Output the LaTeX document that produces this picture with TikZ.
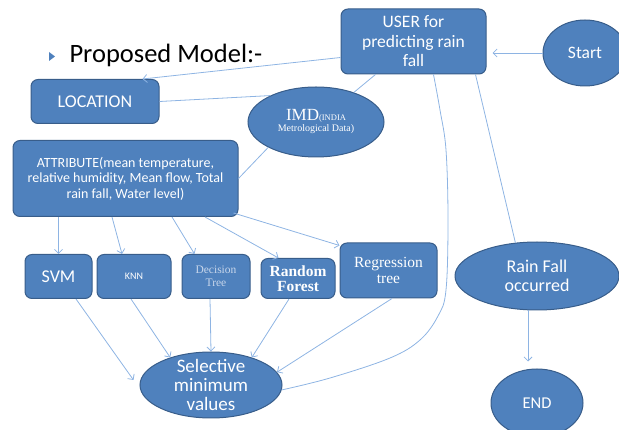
\documentclass[tikz,border=0pt]{standalone}
\usepackage{fontspec}
\setmainfont{Carlito}
\newfontfamily\timesfont{Liberation Serif}
\usepackage{xcolor}
\usetikzlibrary{shapes.geometric,arrows.meta}
\definecolor{boxblue}{HTML}{4F81BD}
\definecolor{boxedge}{HTML}{385D8A}
\definecolor{linkblue}{HTML}{8EB4E3}
\definecolor{paletext}{HTML}{C8D6EB}

\begin{document}
\begin{tikzpicture}[
	%	style def
	x=1pt, y=-1pt,
	block/.style={draw=boxedge, fill=boxblue, rounded corners=7pt, line width=1pt, text=white, align=center, inner sep=0pt},
	oval/.style={ellipse, draw=boxedge, fill=boxblue, line width=1pt, inner sep=0pt},
	oval text/.style={text=white, align=center},
	link/.style={draw=linkblue, line width=0.8pt},
	arrow link/.style={link, -{Straight Barb[length=4pt,width=8pt]}}
	]
	\useasboundingbox (0,0) rectangle (619,430);
	\clip (0,0) rectangle (619,430);

	% heading
	\fill[boxblue] (49,52) -- (49,61) -- (55,56.5) -- cycle;
	\node[anchor=base west, font=\fontsize{26.5}{26.5}\selectfont] (title) at (66,63) {Proposed Model:-};

	% upper part
	\node[block, minimum width=145pt, minimum height=65pt, font=\fontsize{17.5}{19.5}\selectfont] (user) at (413.5,41.5) {USER for\\predicting rain\\fall};
	\node[oval, minimum width=84pt, minimum height=66pt, label={[oval text, font=\fontsize{17.5}{17.5}\selectfont]center:Start}] (start) at (585,53) {};
	\node[block, minimum width=128pt, minimum height=44pt, font=\fontsize{18}{18}\selectfont] (loc) at (95,101.5) {LOCATION};
	\node[oval, minimum width=136pt, minimum height=70pt, label={[oval text, font=\timesfont]center:{\fontsize{17}{17}\selectfont IMD}{\fontsize{8.5}{9}\selectfont (INDIA}\\[-1pt]{\fontsize{10}{11}\selectfont Metrological Data)}}] (imd) at (316,122) {};
	\node[block, minimum width=225pt, minimum height=76pt, font=\fontsize{14}{15.5}\selectfont] (attr) at (125.5,178.5) {ATTRIBUTE(mean temperature,\\relative humidity, Mean flow, Total\\rain fall, Water level)};

	% methods
	\node[block, minimum width=67pt, minimum height=44pt, font=\fontsize{18}{18}\selectfont] (svm) at (58.5,276.5) {SVM};
	\node[block, minimum width=74pt, minimum height=44pt, font=\fontsize{10}{10}\selectfont] (knn) at (134,276.5) {KNN};
	\node[block, minimum width=68pt, minimum height=44pt, text=paletext, font=\timesfont\fontsize{11.5}{13}\selectfont] (dec) at (216,276.5) {Decision\\Tree};
	\node[block, minimum width=74pt, minimum height=40pt, font=\timesfont\bfseries\fontsize{15.5}{15.5}\selectfont] (rf) at (298,278.5) {Random\\Forest};
	\node[block, minimum width=97pt, minimum height=55pt, font=\timesfont\fontsize{15.5}{16.5}\selectfont] (reg) at (388.5,270.5) {Regression\\tree};

	% lower part
	\node[oval, minimum width=142pt, minimum height=66pt, label={[oval text, font=\fontsize{19}{19}\selectfont]center:Selective\\minimum\\values}] (sel) at (211,385) {};
	\node[oval, minimum width=164pt, minimum height=68pt, label={[oval text, font=\fontsize{18}{19.5}\selectfont]center:Rain Fall\\occurred}] (rain) at (537,276) {};
	\node[oval, minimum width=92pt, minimum height=68pt, label={[oval text, font=\fontsize{16.5}{16.5}\selectfont]center:END}] (endn) at (537,403) {};

	% connections at the top
	\draw[arrow link, shorten >=6pt] (start.west) -- (start.west -| user.east);
	\draw[arrow link] ([yshift=-16pt]user.west) -- ([xshift=-17pt]loc.north east);
	\draw[link] (loc.east) -- (imd.150);
	\draw[link] ([xshift=-38pt]user.south) -- (imd.38);
	\draw[link] (imd.208) -- (attr.east);

	% attribute to the methods
	\draw[arrow link] (attr.south -| svm) -- (svm.north);
	\draw[arrow link] ([xshift=-13.5pt]attr.south) -- ([xshift=-12pt]knn.north);
	\draw[arrow link] ([xshift=46.5pt]attr.south) -- ([xshift=13pt]dec.north west);
	\draw[arrow link] ([xshift=79.5pt]attr.south) -- ([xshift=18pt]rf.north west);
	\draw[arrow link] ([xshift=-5pt,yshift=4pt]attr.south east) -- ([yshift=-3pt]reg.north west);

	% methods to selective minimum values
	\draw[arrow link] ([xshift=17.5pt]svm.south) -- ([shift={(-6,-5)}]sel.west);
	\draw[arrow link] ([xshift=-3pt]knn.south) -- (sel.146);
	\draw[arrow link] ([xshift=-6pt]dec.south) -- (sel.north);
	\draw[arrow link] ([xshift=-9pt]rf.south) -- (sel.34);
	\draw[arrow link] ([xshift=3.5pt]reg.south) -- (sel.11);

	% back to the user
	\coordinate (loopend) at ([xshift=20pt]user.south);
	\draw[link] plot[smooth, tension=0.6] coordinates {(sel.-4) (330,378) (390,358) (420,340) (438,316) (446,290) (448,220) (446,150) (440,110) (loopend)};
	\draw[link] ([xshift=-11pt]user.south east) -- (rain.123);
	\draw[arrow link] ([xshift=-9pt]rain.south) -- ([xshift=-9pt,yshift=7pt]endn.north);
\end{tikzpicture}
\end{document}
